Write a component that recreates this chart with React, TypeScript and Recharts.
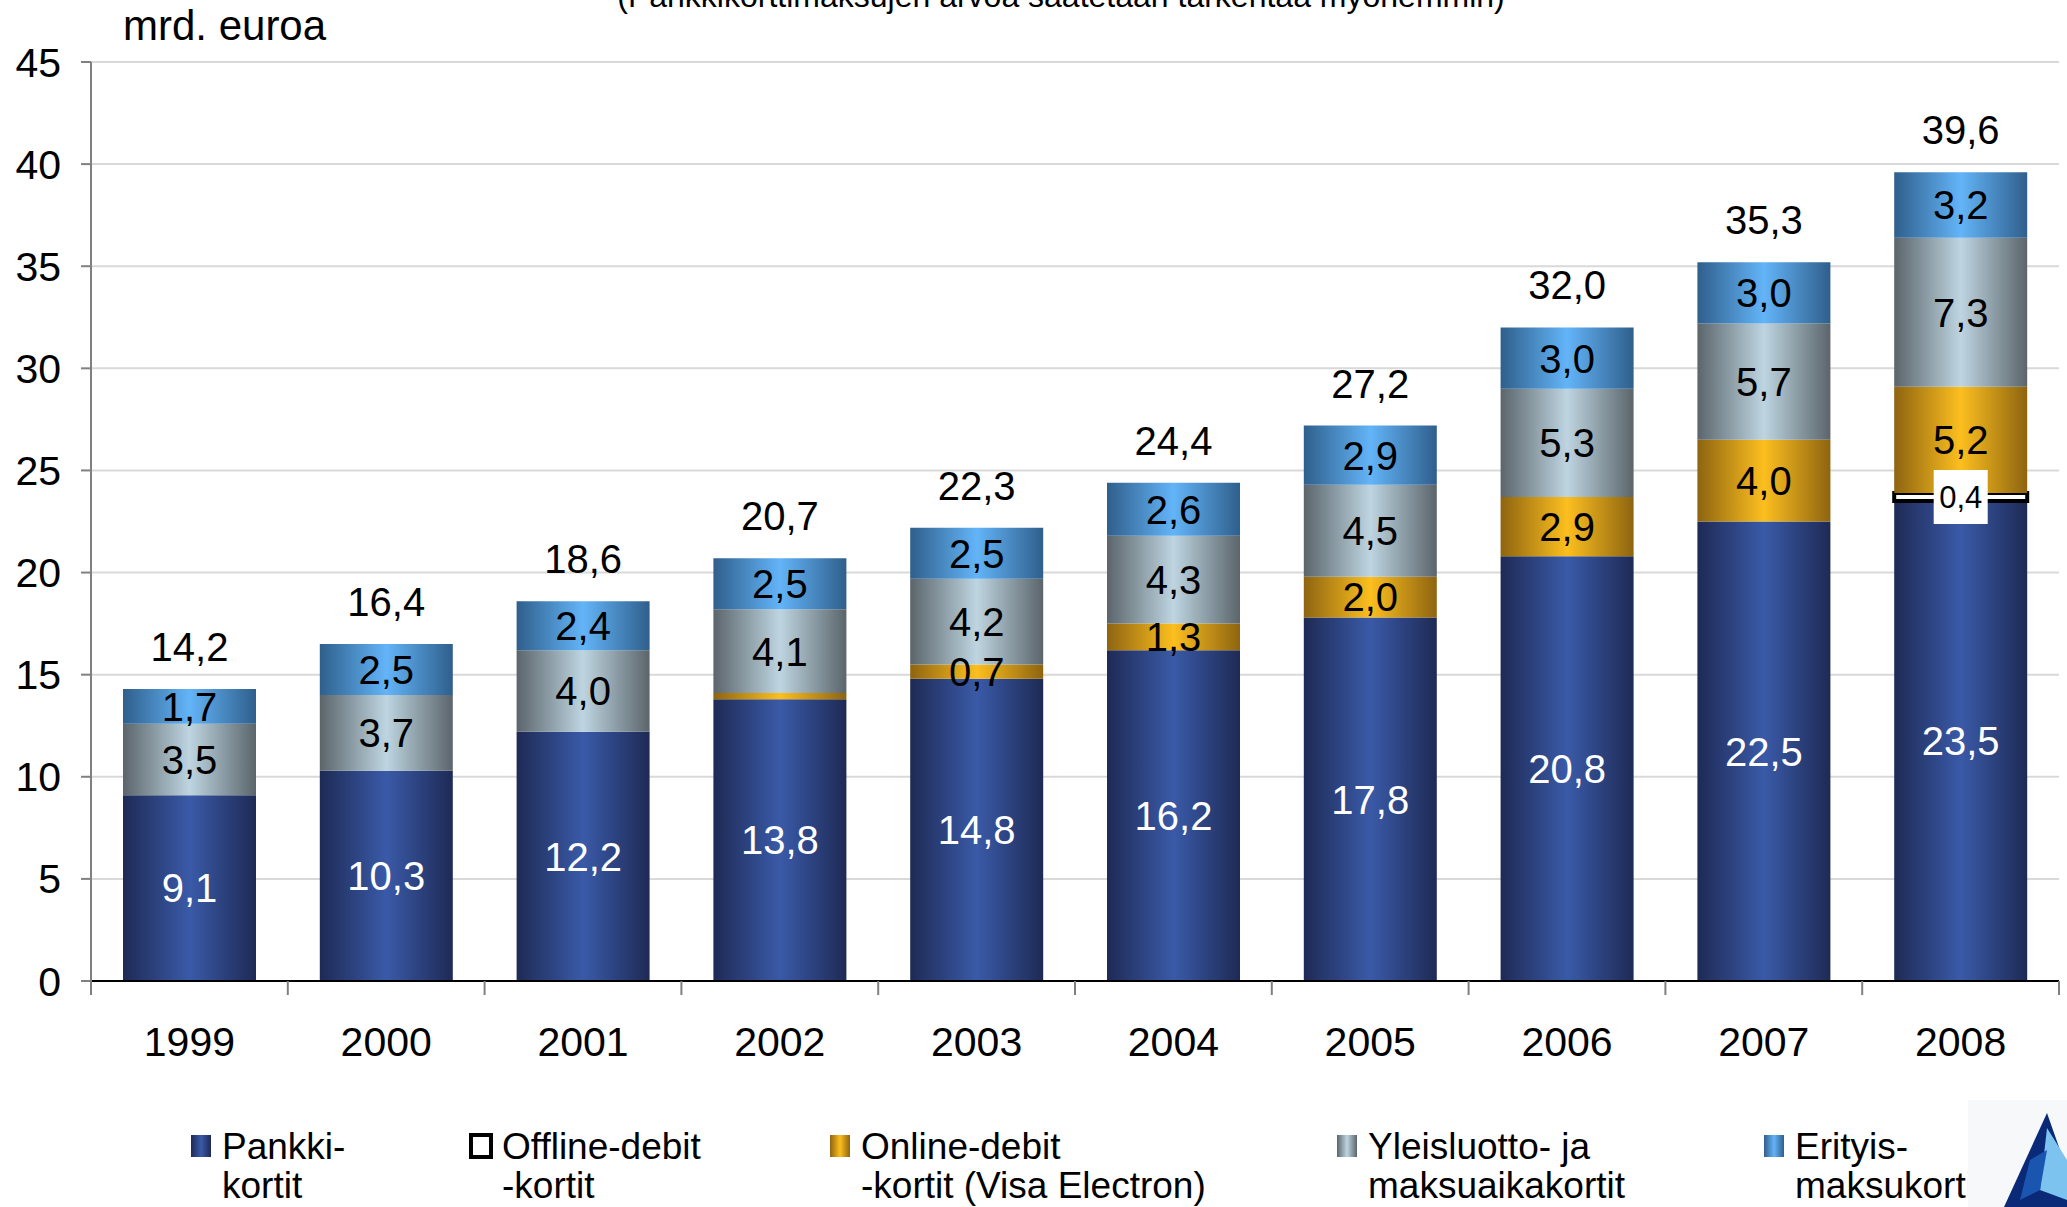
import { BarChart, Bar, XAxis, YAxis, CartesianGrid, LabelList } from 'recharts';

const years = ['1999', '2000', '2001', '2002', '2003', '2004', '2005', '2006', '2007', '2008'];
const pankki = [9.1, 10.3, 12.2, 13.8, 14.8, 16.2, 17.8, 20.8, 22.5, 23.5];
const offline = [0, 0, 0, 0, 0, 0, 0, 0, 0, 0.4];
const online = [0, 0, 0, 0.3, 0.7, 1.3, 2.0, 2.9, 4.0, 5.2];
const yleis = [3.5, 3.7, 4.0, 4.1, 4.2, 4.3, 4.5, 5.3, 5.7, 7.3];
const erityis = [1.7, 2.5, 2.4, 2.5, 2.5, 2.6, 2.9, 3.0, 3.0, 3.2];
const totals = [14.2, 16.4, 18.6, 20.7, 22.3, 24.4, 27.2, 32.0, 35.3, 39.6];
const yTicks = [0, 5, 10, 15, 20, 25, 30, 35, 40, 45];

const data = years.map((year, i) => ({
  year,
  pankki: pankki[i],
  offline: offline[i],
  online: online[i],
  yleis: yleis[i],
  erityis: erityis[i],
}));

const W = 2067;
const H = 1207;
const PLOT_LEFT = 91;
const PLOT_RIGHT = 2059;
const PLOT_TOP = 62;
const PLOT_BOTTOM = 981;
const BAND = (PLOT_RIGHT - PLOT_LEFT) / years.length;
const FONT = '"Liberation Sans", Arial, sans-serif';

const fmt = (v: number) => v.toFixed(1).replace('.', ',');

const segLabel = (color: string, minValue: number) => (props: any) => {
  const { x, y, width, height, value } = props;
  if (value == null || Number(value) < minValue) return null;
  return (
    <text x={Number(x) + Number(width) / 2} y={Number(y) + Number(height) / 2} dy="0.36em"
      textAnchor="middle" fontSize={40} fill={color} fontFamily={FONT}>
      {fmt(Number(value))}
    </text>
  );
};

const offlineLabel = (props: any) => {
  const { x, y, width, height, value } = props;
  if (!value) return null;
  const cx = Number(x) + Number(width) / 2;
  const cy = Number(y) + Number(height) / 2;
  return (
    <g>
      <rect x={cx - 27} y={cy - 27} width={54} height={54} fill="#fff" />
      <text x={cx} y={cy} dy="0.36em" textAnchor="middle" fontSize={31} fill="#000" fontFamily={FONT}>
        {fmt(Number(value))}
      </text>
    </g>
  );
};

const totalLabel = (props: any) => {
  const { x, y, width, index } = props;
  return (
    <text x={Number(x) + Number(width) / 2} y={Number(y) - 28} textAnchor="middle" fontSize={40}
      fill="#000" fontFamily={FONT}>
      {fmt(totals[index])}
    </text>
  );
};

const XTick = (props: any) => {
  const { x, payload, index } = props;
  return (
    <g>
      <line x1={x - BAND / 2} x2={x - BAND / 2} y1={PLOT_BOTTOM} y2={PLOT_BOTTOM + 14} stroke="#808080" strokeWidth={2} />
      {index === years.length - 1 && (
        <line x1={x + BAND / 2} x2={x + BAND / 2} y1={PLOT_BOTTOM} y2={PLOT_BOTTOM + 14} stroke="#808080" strokeWidth={2} />
      )}
      <text x={x} y={1041} dy="0.36em" textAnchor="middle" fontSize={41} fill="#000" fontFamily={FONT}>
        {payload.value}
      </text>
    </g>
  );
};

const grads = [
  { id: 'gPankki', edge: '#1e2a55', mid: '#3a5aa8' },
  { id: 'gOnline', edge: '#8e6410', mid: '#fcbf1f' },
  { id: 'gYleis', edge: '#5b656b', mid: '#bed5e1' },
  { id: 'gErityis', edge: '#2f5f8c', mid: '#63b4f8' },
];

const legendItems = [
  { x: 191, fill: 'url(#lPankki)', stroke: 'none', lines: ['Pankki-', 'kortit'] },
  { x: 471, fill: '#fff', stroke: '#000', lines: ['Offline-debit', '-kortit'] },
  { x: 830, fill: 'url(#lOnline)', stroke: 'none', lines: ['Online-debit', '-kortit (Visa Electron)'] },
  { x: 1337, fill: 'url(#lYleis)', stroke: 'none', lines: ['Yleisluotto- ja', 'maksuaikakortit'] },
  { x: 1764, fill: 'url(#lErityis)', stroke: 'none', lines: ['Erityis-', 'maksukortit'] },
];

function Overlay() {
  return (
    <svg width={W} height={H} style={{ position: 'absolute', left: 0, top: 0, pointerEvents: 'none' }}>
      <defs>
        {grads.map((g) => (
          <linearGradient key={g.id} id={'l' + g.id.slice(1)} x1="0" x2="1" y1="0" y2="0">
            <stop offset="0" stopColor={g.edge} />
            <stop offset="0.5" stopColor={g.mid} />
            <stop offset="1" stopColor={g.edge} />
          </linearGradient>
        ))}
      </defs>
      <text x={1061} y={7} textAnchor="middle" fontSize={32} fontFamily={FONT} fill="#000">
        (Pankkikorttimaksujen arvoa saatetaan tarkentaa myöhemmin)
      </text>
      <text x={123} y={40} fontSize={42} fontFamily={FONT} fill="#000">mrd. euroa</text>
      {legendItems.map((it) => (
        <g key={it.x}>
          <rect x={it.x} y={1135} width={20} height={22} fill={it.fill}
            stroke={it.stroke} strokeWidth={it.stroke === 'none' ? 0 : 4} />
          <text x={it.x + 31} y={1159} fontSize={37} fontFamily={FONT} fill="#000">{it.lines[0]}</text>
          <text x={it.x + 31} y={1198} fontSize={37} fontFamily={FONT} fill="#000">{it.lines[1]}</text>
        </g>
      ))}
      <rect x={1968} y={1100} width={99} height={107} fill="#f7f8fa" />
      <polygon points="2047,1113 2004,1207 2067,1207 2067,1170" fill="#0a2a78" />
      <polygon points="2047,1128 2067,1160 2067,1200 2040,1190" fill="#7cc3f0" />
      <polygon points="2030,1160 2047,1150 2040,1190 2020,1200" fill="#1a56b0" />
    </svg>
  );
}

export default function App() {
  return (
    <div style={{ position: 'absolute', left: 0, top: 0, width: W, height: H, background: '#fff', fontFamily: FONT }}>
      <BarChart width={W} height={H} data={data} barSize={133}
        margin={{ top: PLOT_TOP, right: W - PLOT_RIGHT, left: 0, bottom: H - PLOT_BOTTOM - 100 }}>
        <defs>
          {grads.map((g) => (
            <linearGradient key={g.id} id={g.id} x1="0" x2="1" y1="0" y2="0">
              <stop offset="0" stopColor={g.edge} />
              <stop offset="0.5" stopColor={g.mid} />
              <stop offset="1" stopColor={g.edge} />
            </linearGradient>
          ))}
        </defs>
        <CartesianGrid vertical={false} stroke="#d9d9d9" strokeWidth={2} />
        <XAxis dataKey="year" height={100} stroke="#000" strokeWidth={2} tickLine={false} tick={<XTick />} interval={0} />
        <YAxis width={PLOT_LEFT} domain={[0, 45]} ticks={yTicks} interval={0} stroke="#808080" strokeWidth={2}
          tickSize={10} tickMargin={20} tick={{ fontSize: 41, fill: '#000', fontFamily: FONT }} />
        <Bar dataKey="pankki" stackId="a" fill="url(#gPankki)" isAnimationActive={false}>
          <LabelList dataKey="pankki" content={segLabel('#fff', 0.5)} />
        </Bar>
        <Bar dataKey="offline" stackId="a" fill="#fff" stroke="#000" strokeWidth={4} isAnimationActive={false}>
          <LabelList dataKey="offline" content={offlineLabel} />
        </Bar>
        <Bar dataKey="online" stackId="a" fill="url(#gOnline)" isAnimationActive={false}>
          <LabelList dataKey="online" content={segLabel('#000', 0.5)} />
        </Bar>
        <Bar dataKey="yleis" stackId="a" fill="url(#gYleis)" isAnimationActive={false}>
          <LabelList dataKey="yleis" content={segLabel('#000', 0.5)} />
        </Bar>
        <Bar dataKey="erityis" stackId="a" fill="url(#gErityis)" isAnimationActive={false}>
          <LabelList dataKey="erityis" content={segLabel('#000', 0.5)} />
          <LabelList dataKey="erityis" content={totalLabel} />
        </Bar>
      </BarChart>
      <Overlay />
    </div>
  );
}
